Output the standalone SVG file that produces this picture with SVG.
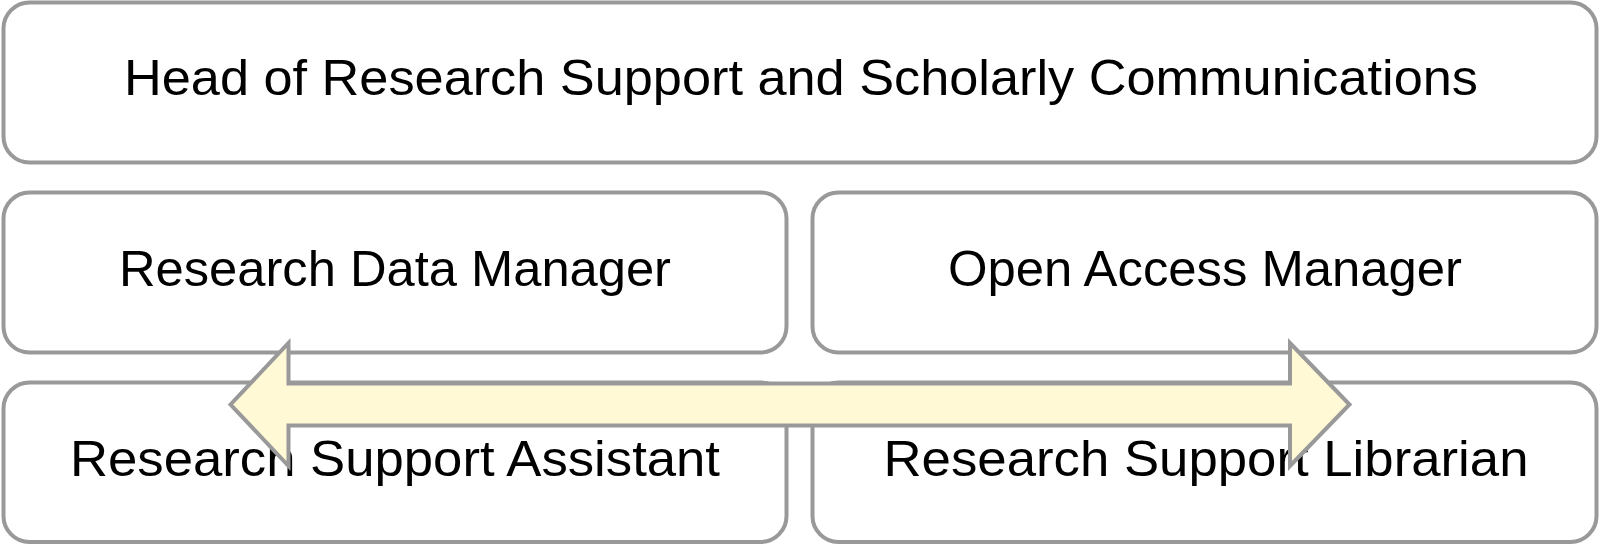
<svg xmlns="http://www.w3.org/2000/svg" width="1600" height="546" viewBox="0 0 1600 546">
<style>
.box{fill:#ffffff;stroke:#999999;stroke-width:4}
.lbl{font-family:"Liberation Sans",Arial,sans-serif;font-size:50px;fill:#000000;text-anchor:middle}
.arr{fill:#FFF9D6;stroke:#999999;stroke-width:4;stroke-linejoin:miter}
</style>
<rect width="1600" height="546" fill="#ffffff"/>
<g id="head">
<rect class="box" x="3.5" y="2.5" width="1593" height="160" rx="26"/>
<text class="lbl" x="801" y="95" textLength="1354" lengthAdjust="spacingAndGlyphs">Head of Research Support and Scholarly Communications</text>
</g>
<g id="rdm">
<rect class="box" x="3.5" y="192.5" width="783" height="160" rx="26"/>
<text class="lbl" x="395" y="286" textLength="552" lengthAdjust="spacingAndGlyphs">Research Data Manager</text>
</g>
<g id="oam">
<rect class="box" x="812.5" y="192.5" width="784" height="160" rx="26"/>
<text class="lbl" x="1205" y="286" textLength="514" lengthAdjust="spacingAndGlyphs">Open Access Manager</text>
</g>
<g id="rsa">
<rect class="box" x="3.5" y="382.5" width="783" height="159.5" rx="26"/>
<text class="lbl" x="395" y="476" textLength="650" lengthAdjust="spacingAndGlyphs">Research Support Assistant</text>
</g>
<g id="rsl">
<rect class="box" x="812.5" y="382.5" width="784" height="159.5" rx="26"/>
<text class="lbl" x="1206" y="476" textLength="645" lengthAdjust="spacingAndGlyphs">Research Support Librarian</text>
</g>
<g id="connectors">
<polygon class="arr" points="230.5,404.5 288.5,343 288.5,383.5 1290,383.5 1290,343 1349.5,404.5 1290,466 1290,425.5 288.5,425.5 288.5,466"/>
</g>
</svg>
